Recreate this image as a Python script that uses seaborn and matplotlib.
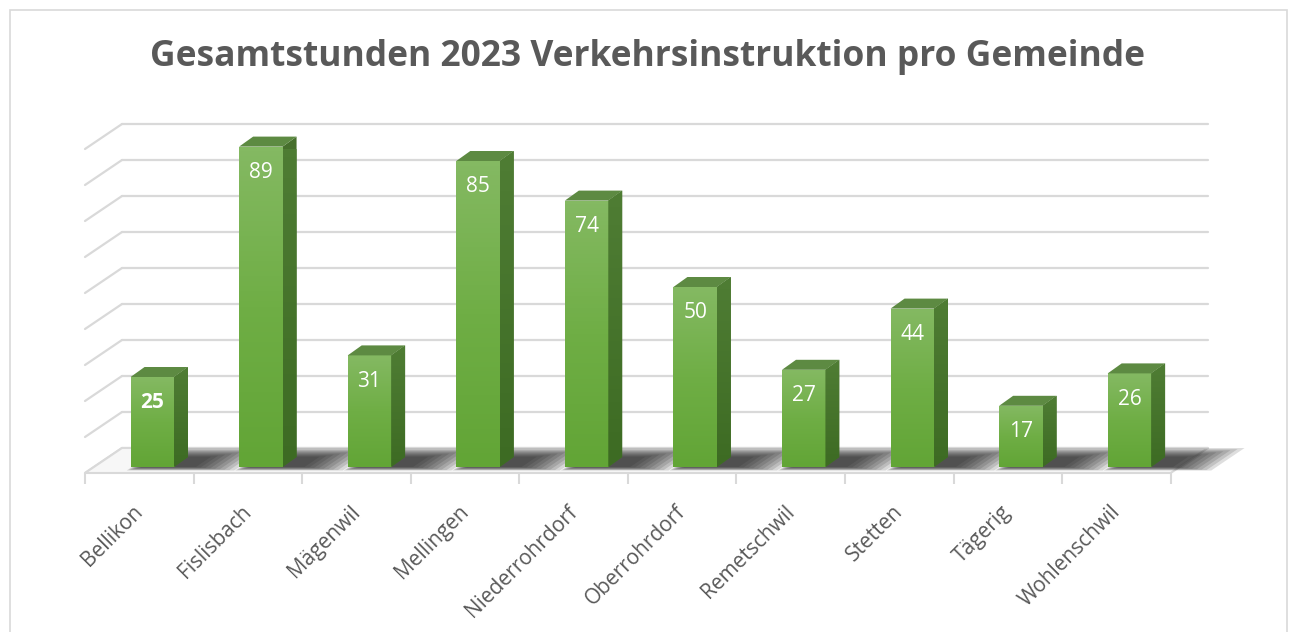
import numpy as np
import pandas as pd
import matplotlib
matplotlib.use("Agg")
import matplotlib.pyplot as plt
import seaborn as sns
from matplotlib.patches import Polygon, Rectangle
from matplotlib.colors import LinearSegmentedColormap
from matplotlib.transforms import ScaledTranslation

# ---- data ----
gemeinden = ["Bellikon", "Fislisbach", "Mägenwil", "Mellingen", "Niederrohrdorf",
             "Oberrohrdorf", "Remetschwil", "Stetten", "Tägerig", "Wohlenschwil"]
stunden = [25, 89, 31, 85, 74, 50, 27, 44, 17, 26]
grid_values = list(range(0, 100, 10))
title = "Gesamtstunden 2023 Verkehrsinstruktion pro Gemeinde"

sns.set_theme(style="white")
plt.rcParams["font.family"] = ["Open Sans", "DejaVu Sans"]

W, H = 1290, 632
fig = plt.figure(figsize=(W / 100, H / 100), dpi=100)
ax = fig.add_axes([85 / W, (H - 473) / H, 1085.7 / W, 324 / H])

df = pd.DataFrame({"Gemeinde": gemeinden, "Stunden": stunden})
sns.barplot(data=df, x="Gemeinde", y="Stunden", width=0.4, color="#70ad47",
            saturation=1, ax=ax, zorder=4)
ax.set_xlim(-0.5, 9.5)
ax.set_ylim(0, 90)
ax.set_xlabel("")
ax.set_ylabel("")
for s in ax.spines.values():
    s.set_visible(False)
ax.set_yticks([])

# pixel -> data conversions
sx = 1085.7 / 10.0   # px per category
sy = 324 / 90.0      # px per value unit
def px(dx, dy):
    return dx / sx, dy / sy

Dx, Dy = px(37, 25)        # wall depth
ox, oy = px(13, 6)         # bar front offset into floor
bx, by = px(14, 10)        # bar depth

grid_c = "#d9d9d9"
# floor
floor = Polygon([(-0.5, 0), (9.5, 0), (9.5 + Dx, Dy), (-0.5 + Dx, Dy)], closed=True,
                facecolor="#f7f7f7", edgecolor=grid_c, lw=1.5, zorder=1, clip_on=False)
ax.add_patch(floor)
# back wall gridlines + left wall lines
for v in grid_values:
    ax.plot([-0.5 + Dx, 9.5 + Dx], [v + Dy, v + Dy], color=grid_c, lw=1.6, zorder=0.5, clip_on=False)
    ax.plot([-0.5, -0.5 + Dx], [v, v + Dy], color=grid_c, lw=1.6, zorder=0.5, clip_on=False)

grad_front = LinearSegmentedColormap.from_list("gf", ["#62a536", "#6fae45", "#84b962"])
grad_side = LinearSegmentedColormap.from_list("gs", ["#3d6b23", "#4f7d34"])
gimg = np.linspace(0, 1, 64).reshape(-1, 1)

for i, p in enumerate(ax.patches[:len(stunden)]):
    x = p.get_x() + ox
    w = p.get_width()
    h = p.get_height()
    p.set_x(x)
    p.set_y(oy)
    p.set_edgecolor("none")
    p.set_clip_on(False)
    # blurred shadow on the floor
    n = 9
    for k in range(n):
        s = k / (n - 1)
        x0 = x - 0.07 + s * 0.10
        x1 = x + w + 0.52 - s * 0.40
        d0, d1 = 0.10 + s * 0.14, 1.0 - s * 0.35
        sh = Polygon([(x0 + d0 * Dx, d0 * Dy), (x1 + d0 * Dx, d0 * Dy),
                      (x1 + d1 * Dx, d1 * Dy), (x0 + d1 * Dx, d1 * Dy)], closed=True,
                     facecolor="#1a1a1a", edgecolor="none", alpha=0.14, zorder=1.5, clip_on=False)
        ax.add_patch(sh)
    # front gradient
    im = ax.imshow(gimg, extent=[x, x + w, oy, oy + h], origin="lower", cmap=grad_front,
                   aspect="auto", zorder=4.5)
    im.set_clip_path(p)
    # side face
    side_poly = [(x + w, oy), (x + w + bx, oy + by), (x + w + bx, oy + h + by), (x + w, oy + h)]
    side = Polygon(side_poly, closed=True, facecolor="#466f2c", edgecolor="none",
                   zorder=4, clip_on=False)
    ax.add_patch(side)
    im2 = ax.imshow(gimg, extent=[x + w, x + w + bx, oy, oy + h + by], origin="lower",
                    cmap=grad_side, aspect="auto", zorder=4.5)
    im2.set_clip_path(side)
    # top face
    top = Polygon([(x, oy + h), (x + w, oy + h), (x + w + bx, oy + h + by), (x + bx, oy + h + by)],
                  closed=True, facecolor="#5d8a42", edgecolor="none", zorder=4.6, clip_on=False)
    ax.add_patch(top)
    # value label
    ax.annotate(str(stunden[i]), xy=(x + w / 2, oy + h), xytext=(0, -18.5),
                textcoords="offset points", ha="center", va="center", color="white",
                fontsize=15, fontweight="bold" if i == 0 else "normal", zorder=6,
                annotation_clip=False)

ax.set_xlim(-0.5, 9.5)
ax.set_ylim(0, 90)

# x axis ticks at category boundaries
ax.set_xticks(range(len(gemeinden)))
ax.set_xticklabels(gemeinden, rotation=45, ha="right", rotation_mode="anchor",
                   color="#595959", fontsize=15)
ax.set_xticks(np.arange(-0.5, 10, 1), minor=True)
ax.tick_params(axis="x", which="major", length=0, pad=19)
ax.tick_params(axis="x", which="minor", length=8, width=1.5, color=grid_c, direction="out", bottom=True)
shift = ScaledTranslation(-7 / 100, -2 / 100, fig.dpi_scale_trans)
for lbl in ax.get_xticklabels():
    lbl.set_transform(lbl.get_transform() + shift)
ax.patch.set_alpha(0)

fig.text(0.502, 1 - 57 / H, title, ha="center", va="center", fontsize=25.5,
         fontweight="bold", color="#595959")
fig.add_artist(Rectangle((10 / W, -0.01), (1287 - 10) / W, 1.01 - 10 / H, transform=fig.transFigure,
                         fill=False, edgecolor="#d9d9d9", lw=1.2))

fig.savefig("out.png", dpi=100)
